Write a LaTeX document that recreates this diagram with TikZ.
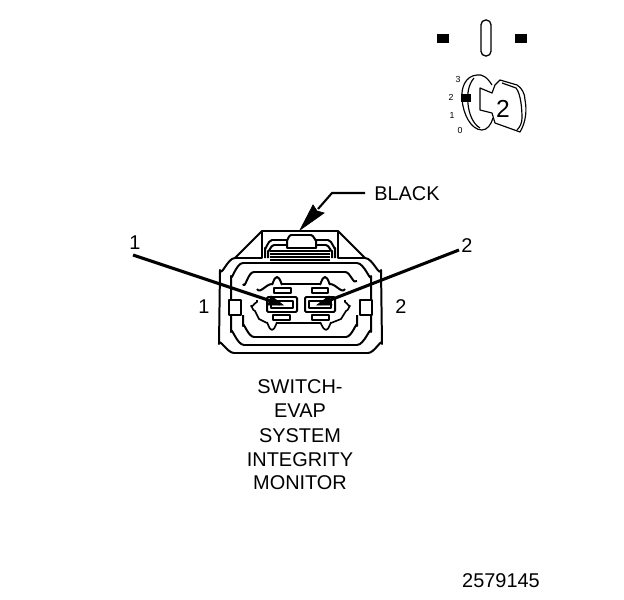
\documentclass[tikz,border=0pt]{standalone}
\usepackage{fontspec}
\setmainfont{Liberation Sans}
\tikzset{
  outline/.style={line width=1.7pt, line join=round},
  fineline/.style={line width=1pt, line join=round},
  leader/.style={line width=2.6pt},
  wedge/.style={fill=black, draw=black, line width=0.6pt},
  pinpad/.style={fill=black},
  biglabel/.style={font=\fontsize{17pt}{20pt}\selectfont, inner sep=0pt},
  ticklabel/.style={font=\fontsize{7.5pt}{9pt}\selectfont, inner sep=0pt}
}
\begin{document}
\begin{tikzpicture}[x=0.03cm, y=-0.03cm]
    \useasboundingbox (0,0) rectangle (624,600);

    % Shoulder
    \draw[outline] (235,258) -- (262,231) -- (338,231) -- (365,258);
    \draw[outline] (262,231) -- (262,258) -- (235,258);
    \draw[outline] (338,231) -- (338,258) -- (365,258);

    % Outer body
    \draw[outline] (235,258) to[out=180,in=-80] (220,270) -- (219,344)
        to[out=90,in=180] (234,353) -- (368,353) to[out=0,in=90] (382,344)
        -- (381,270) to[out=-100,in=0] (365,258);

    % Second wall
    \draw[outline] (231,300) -- (231,276) to[out=-90,in=180] (243,263) -- (357,263)
        to[out=0,in=-90] (371,276) -- (371,300);
    \draw[outline] (231,315) -- (231,332) to[out=90,in=180] (244,345) -- (357,345)
        to[out=0,in=90] (371,332) -- (371,315);

    % Side tabs
    \draw[outline] (229,300) rectangle (241,315);
    \draw[outline] (360,300) rectangle (372,315);

    % Hood with ribs
    \draw[outline] (265,258) -- (265,248) to[out=-90,in=180] (272,240) -- (287,240);
    \draw[outline] (335,258) -- (335,248) to[out=-90,in=0] (328,240) -- (315,240);
    \draw[outline] (268,258) -- (268,251) to[out=-90,in=180] (274,245) -- (287,245);
    \draw[outline] (332,258) -- (332,251) to[out=-90,in=0] (326,245) -- (315,245);
    \draw[outline] (287,248) -- (287,240) to[out=-90,in=180] (291,235) -- (311,235)
        to[out=0,in=-90] (316,240) -- (316,248) -- cycle;
    \foreach \riby in {251,254,257,260}
        \draw[outline] (270,\riby) -- (330,\riby);

    % Inner wall
    \draw[outline] (243,284) to[out=-70,in=180] (254,272) -- (345,272) to[out=0,in=-130] (357,281);
    \draw[outline] (243,315) -- (243,326) to[out=90,in=180] (254,337) -- (346,337)
        to[out=0,in=90] (357,326) -- (357,315);

    % Cavity
    \draw[outline] (257,289) to[out=-60,in=180] (272,284) to[out=-90,in=180] (277,277)
        to[out=0,in=-90] (282,284) -- (320,284) to[out=-90,in=180] (325,277)
        to[out=0,in=-90] (330,284) to[out=0,in=-120] (345,289);
    \draw[fineline, line width=1.4pt] (257,300) -- (257,302) to[out=-160,in=-90] (251,306) to[out=90,in=180] (255,311)
        -- (259,319) -- (267,323) to[out=90,in=180] (272,330) to[out=0,in=90] (277,323) -- (320,323)
        to[out=90,in=180] (326,330) to[out=0,in=90] (331,323) -- (341,319) -- (346,311)
        to[out=0,in=90] (350,306) to[out=-90,in=-20] (345,302) -- (345,300);

    % Terminals
    \draw[outline, rounded corners=1pt] (267,297) rectangle (297,312);
    \draw[outline, rounded corners=1pt] (305,297) rectangle (335,312);
    \draw[fineline] (271,301) rectangle (293,308);
    \draw[fineline] (309,301) rectangle (331,308);
    \draw[outline] (274,288) rectangle (291,293);
    \draw[outline] (312,288) rectangle (328,293);
    \draw[outline] (273,315) rectangle (290,320);
    \draw[outline] (312,315) rectangle (329,320);

    % Color callout
    \coordinate (blackend) at (365,193);
    \coordinate (blackbend) at (332,193);
    \coordinate (blackneck) at (318,209);
    \draw[line width=1.8pt] (blackend) -- (blackbend) -- (blackneck);
    \draw[wedge] (300,230) -- (313,205) -- (317,211) -- (324,213) -- cycle;
    \node[biglabel] (blacktext) at (407,194) {BLACK};

    % Pin callouts
    \coordinate (pinonestart) at (133,255);
    \coordinate (pinoneend) at (280,304);
    \coordinate (pintwostart) at (459,250);
    \coordinate (pintwoend) at (320,304);
    \draw[leader] (pinonestart) -- (pinoneend);
    \draw[leader] (pintwostart) -- (pintwoend);
    \draw[wedge] (283,305) -- (268,305) -- (271,296) -- cycle;
    \draw[wedge] (317,305) -- (332,305) -- (329,296) -- cycle;

    % Pin numbers
    \node[biglabel] (pinonetop) at (135,243) {1};
    \node[biglabel] (pintwotop) at (467,246) {2};
    \node[biglabel] (pinoneside) at (204,307) {1};
    \node[biglabel] (pintwoside) at (401,307) {2};

    % Connector name
    \node[biglabel] (nameone) at (300,387) {SWITCH-};
    \node[biglabel] (nametwo) at (300,411) {EVAP};
    \node[biglabel] (namethree) at (300,436) {SYSTEM};
    \node[biglabel] (namefour) at (300,460) {INTEGRITY};
    \node[biglabel] (namefive) at (300,483) {MONITOR};

    % Figure number
    \node[biglabel] (figurenum) at (501,581) {2579145};

    % Key symbol
    \fill[pinpad] (437,34) rectangle (449,43);
    \fill[pinpad] (515,34) rectangle (527,43);
    \draw[line width=1.1pt, rounded corners=4pt] (481,20) rectangle (491,56);

    % Key switch positions
    \node[ticklabel] (posthree) at (458,79) {3};
    \node[ticklabel] (postwo) at (451,97) {2};
    \node[ticklabel] (posone) at (452,115) {1};
    \node[ticklabel] (poszero) at (460,130) {0};
    \fill[pinpad] (461,94) rectangle (471,102);
    \draw[fineline] (492,85) .. controls (487,77) and (482,74) .. (477,75)
        .. controls (465,76) and (461,88) .. (462,99)
        .. controls (463,114) and (471,130) .. (482,130)
        .. controls (487,130) and (491,125) .. (493,118);
    \draw[fineline] (474,78) .. controls (468,85) and (467,95) .. (468,104)
        .. controls (469,114) and (473,124) .. (480,128);
    \draw[fineline] (480,88) -- (492,93) -- (495,85) -- (500,80) -- (517,85)
        .. controls (522,88) and (525,94) .. (525,100)
        .. controls (527,110) and (526,122) .. (520,132)
        -- (495,123) -- (492,113) -- (480,110) -- cycle;
    \draw[fineline] (502,83) -- (516,88) .. controls (521,94) and (522,110) .. (522,118)
        .. controls (522,123) and (520,127) .. (517,130);
    \node[font=\fontsize{21pt}{24pt}\selectfont, inner sep=0pt] (keynum) at (503,109) {2};
\end{tikzpicture}
\end{document}
